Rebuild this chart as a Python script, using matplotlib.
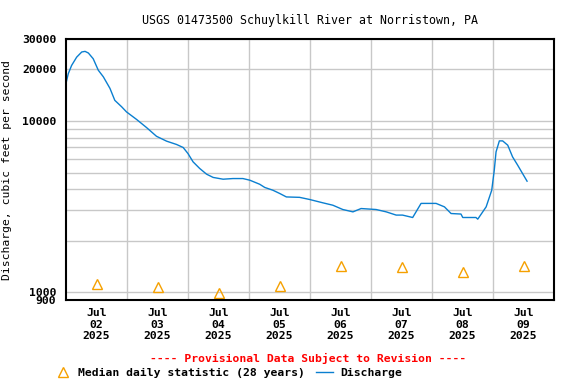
import matplotlib
matplotlib.use("Agg")
from matplotlib import pyplot as plt
from matplotlib.lines import Line2D

# discharge readings: hours since Jul 02 2025 00:00, cfs
hours = [0.0, 0.9, 2.2, 4.2, 6.2, 7.5, 8.8, 10.7, 12.7, 14.7, 17.3, 19.2, 21.9, 23.8,
         27.8, 31.7, 35.6, 39.6, 43.5, 46.1, 48.0, 50.0, 52.6, 55.3, 57.9, 61.8, 65.7,
         69.6, 72.3, 76.2, 78.2, 81.4, 84.1, 86.7, 91.9, 95.8, 101.1, 105.0, 108.9,
         112.9, 116.1, 122.0, 126.0, 129.9, 132.4, 136.4, 139.7, 145.6, 148.9, 151.5,
         155.4, 156.1, 161.3, 162.0, 165.3, 167.5, 168.5, 169.2, 170.5, 171.8, 173.8,
         175.7, 177.7, 179.6, 181.4]
flow = [16600, 18900, 21100, 23600, 25300, 25500, 24950, 23100, 19800, 18100, 15500,
        13200, 12100, 11300, 10200, 9150, 8140, 7620, 7290, 7000, 6450, 5770, 5280,
        4890, 4680, 4570, 4610, 4610, 4510, 4270, 4090, 3940, 3770, 3600, 3580, 3480,
        3325, 3220, 3040, 2945, 3080, 3040, 2945, 2820, 2820, 2730, 3300, 3300, 3150,
        2880, 2860, 2730, 2730, 2670, 3150, 3940, 5160, 6600, 7650, 7650, 7220, 6170,
        5520, 4940, 4450]

# median daily statistic, plotted at noon of each day
median_hours = [12, 36, 60, 84, 108, 132, 156, 180]
median_flow = [1110, 1075, 985, 1090, 1420, 1395, 1315, 1420]

day_labels = ["Jul\n02\n2025", "Jul\n03\n2025", "Jul\n04\n2025", "Jul\n05\n2025",
              "Jul\n06\n2025", "Jul\n07\n2025", "Jul\n08\n2025", "Jul\n09\n2025"]
ytick_vals = [900, 1000, 10000, 20000, 30000]
ygrid_vals = [1000, 2000, 3000, 4000, 5000, 6000, 7000, 8000, 9000, 10000, 20000, 30000]

blue = "#0a7fd0"
orange = "#f5a000"
plt.rcParams["font.family"] = ["DejaVu Sans Mono"]
plt.rcParams["font.weight"] = "bold"
fs = 8.2

fig = plt.figure(figsize=(5.76, 3.84), dpi=100)
ax = fig.add_axes([66/576, 1 - 300/384, (554 - 66)/576, (300 - 39.3)/384])

ax.set_yscale("log")
ax.set_ylim(900, 30000)
ax.set_xlim(0, 192)

for g in ygrid_vals:
    ax.axhline(g, color="#c8c8c8", lw=1, zorder=0)
for d in range(24, 192, 24):
    ax.axvline(d, color="#c8c8c8", lw=1, zorder=0)

ax.plot(hours, flow, color=blue, lw=1)
ax.plot(median_hours, median_flow, linestyle="none", marker="^", ms=7,
        mfc="none", mec=orange, mew=1)

ax.set_yticks(ytick_vals)
ax.set_yticklabels([str(v) for v in ytick_vals])
ax.yaxis.set_minor_locator(matplotlib.ticker.NullLocator())
ax.set_xticks(median_hours)
ax.set_xticklabels(day_labels, linespacing=1.15)
ax.tick_params(axis="both", length=0, labelsize=fs)
ax.tick_params(axis="y", pad=7)
ax.tick_params(axis="x", pad=6)
for s in ax.spines.values():
    s.set_linewidth(1.5)

ax.set_ylabel("Discharge, cubic feet per second", fontsize=fs)
ax.yaxis.set_label_coords((12 - 66) / 488, 0.5)
ax.set_title("USGS 01473500 Schuylkill River at Norristown, PA", fontsize=8.4, pad=11)

fig.text(308/576, 1 - 358/384, "---- Provisional Data Subject to Revision ----",
         color="red", fontsize=fs, ha="center", va="center")

# legend row, placed by hand like the reference
ly = 1 - 373/384
fig.add_artist(Line2D([63/576], [ly + 1.5/384], linestyle="none", marker="^", ms=7,
                      mfc="none", mec=orange, mew=1, transform=fig.transFigure))
fig.text(78/576, ly, "Median daily statistic (28 years)", fontsize=fs, va="center")
fig.add_artist(Line2D([316/576, 333/576], [ly + 1/384, ly + 1/384], color=blue, lw=1,
                      transform=fig.transFigure))
fig.text(340/576, ly, "Discharge", fontsize=fs, va="center")

fig.savefig("out.png", dpi=100)
